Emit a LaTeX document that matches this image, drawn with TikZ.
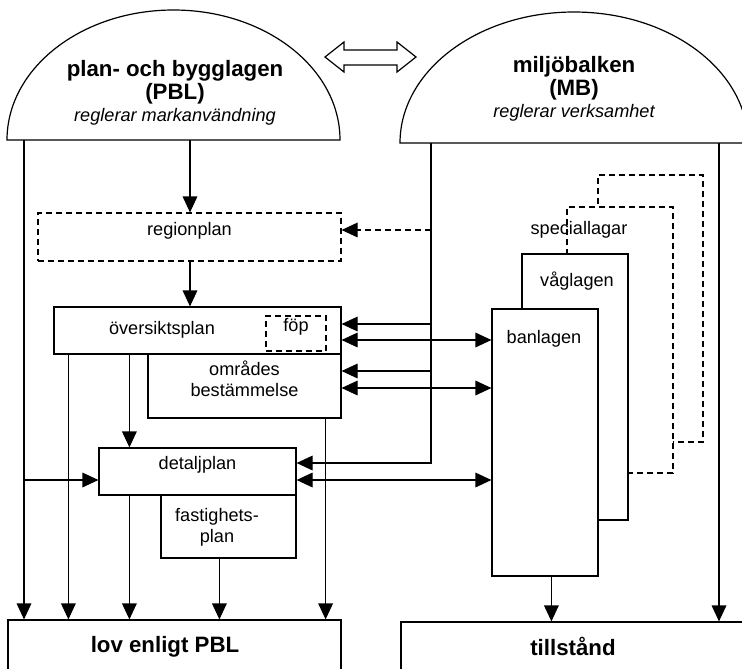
\documentclass[tikz,border=0pt]{standalone}
\usepackage{fontspec}
\setmainfont{Liberation Sans}
\usetikzlibrary{arrows.meta, fit}

\begin{document}
\begin{tikzpicture}[
  x=0.75pt, y=-0.75pt,
  box/.style={rectangle, draw=black, line width=0.9pt, fill=white,
              inner sep=0pt, align=center, font=\fontsize{13.6}{16}\selectfont},
  dashbox/.style={box, dash pattern=on 4.5pt off 3pt},
  txt/.style={inner sep=0pt, align=center, font=\fontsize{13.6}{16}\selectfont},
  title/.style={inner sep=0pt, align=center, font=\bfseries\fontsize{16.7}{17}\selectfont},
  dome/.style={draw=black, line width=0.9pt, fill=white},
  arrow/.style={-{Triangle[length=12pt, width=11pt]}, line width=0.9pt},
  dasharrow/.style={arrow, dash pattern=on 4.5pt off 3pt},
  biarrow/.style={{Triangle[length=12pt, width=11pt]}-{Triangle[length=12pt, width=11pt]}, line width=0.9pt}
]
\clip (0,0) rectangle (742,668);

% the two laws
\draw[dome] (7,140) arc[start angle=180, end angle=360, x radius=166.5, y radius=130] -- cycle;
\node[title] (pbl) at (175,93) {plan- och bygglagen\\(PBL)\\{\mdseries\itshape\fontsize{13.6}{17}\selectfont reglerar markanvändning}};
\draw[dome] (400,143) arc[start angle=180, end angle=360, x radius=174, y radius=131] -- cycle;
\node[title] (mb) at (574,89) {miljöbalken\\(MB)\\{\mdseries\itshape\fontsize{13.6}{17}\selectfont reglerar verksamhet}};
\draw[dome] (325,57) -- (344,42) -- (344,50) -- (397,50) -- (397,42) -- (416,57)
  -- (397,72) -- (397,65) -- (344,65) -- (344,72) -- cycle;

\coordinate (pbl1) at (24,140);
\coordinate (pbl2) at (190,140);
\coordinate (mb1) at (431,143);
\coordinate (mb2) at (719,143);

% PBL side
\node[dashbox, fit={(38,213) (341,261)}] (rp) {regionplan};
\node[box, fit={(54,307) (341,354)}] (op) {};
\node[txt] at (162,330) {översiktsplan};
\node[dashbox, fit={(266,316) (326,351)}] (fop) {föp};
\node[box, fit={(148,354) (341,418)}] (ob) {områdes\\bestämmelse};
\node[box, fit={(99,448) (296,495)}] (dp) {detaljplan};
\node[box, fit={(161,495) (296,558)}] (fp) {};
\node[txt] at (217,527) {fastighets-\\plan};
\node[box, fit={(8,620) (341,672)}] (lov) {};
\node[title] at (165,647) {lov enligt PBL};

% MB side
\node[dashbox, fit={(598,175) (703,442)}] (sx) {};
\node[dashbox, fit={(567,207) (673,473)}] (sl) {};
\node[txt] at (579,230) {speciallagar};
\node[box, fit={(522,254) (628,520)}] (vl) {};
\node[txt] at (577,281) {våglagen};
\node[box, fit={(492,309) (598,576)}] (bl) {};
\node[txt] at (544,339) {banlagen};
\node[box, fit={(401,622) (750,672)}] (ts) {};
\node[title] at (573,646) {tillstånd};

% connectors
\path (op.south west) ++(15,0) coordinate (op1);
\path (op.south west) ++(76,0) coordinate (op2);
\path (ob.south east) ++(-16,0) coordinate (ob1);
\path (dp.south west) ++(31,0) coordinate (dp1);
\path (fp.south west) ++(59,0) coordinate (fp1);
\path (bl.south west) ++(60,0) coordinate (bl1);
\coordinate (p1) at (24,480);
\coordinate (m1) at (431,230);
\coordinate (m2) at (431,324);
\coordinate (b1) at (431,340);
\coordinate (m3) at (431,371);
\coordinate (b2) at (431,388);
\coordinate (m4) at (431,463);
\coordinate (b3) at (431,480);

\draw[arrow] (pbl2) -- (pbl2 |- rp.north);
\draw[arrow] (rp.south -| pbl2) -- (op.north -| pbl2);
\draw[arrow] (pbl1) -- (pbl1 |- lov.north);
\draw[arrow] (p1) -- (p1 -| dp.west);
\draw[arrow] (op1) -- (op1 |- lov.north);
\draw[arrow] (op2) -- (op2 |- dp.north);
\draw[arrow] (ob1) -- (ob1 |- lov.north);
\draw[arrow] (dp1) -- (dp1 |- lov.north);
\draw[arrow] (fp1) -- (fp1 |- lov.north);

\draw[arrow] (mb1) -- (m4) -- (m4 -| dp.east);
\draw[dasharrow] (m1) -- (m1 -| rp.east);
\draw[arrow] (m2) -- (m2 -| op.east);
\draw[biarrow] (b1 -| op.east) -- (b1 -| bl.west);
\draw[arrow] (m3) -- (m3 -| ob.east);
\draw[biarrow] (b2 -| ob.east) -- (b2 -| bl.west);
\draw[biarrow] (b3 -| dp.east) -- (b3 -| bl.west);
\draw[arrow] (bl1) -- (bl1 |- ts.north);
\draw[arrow] (mb2) -- (mb2 |- ts.north);
\end{tikzpicture}
\end{document}
